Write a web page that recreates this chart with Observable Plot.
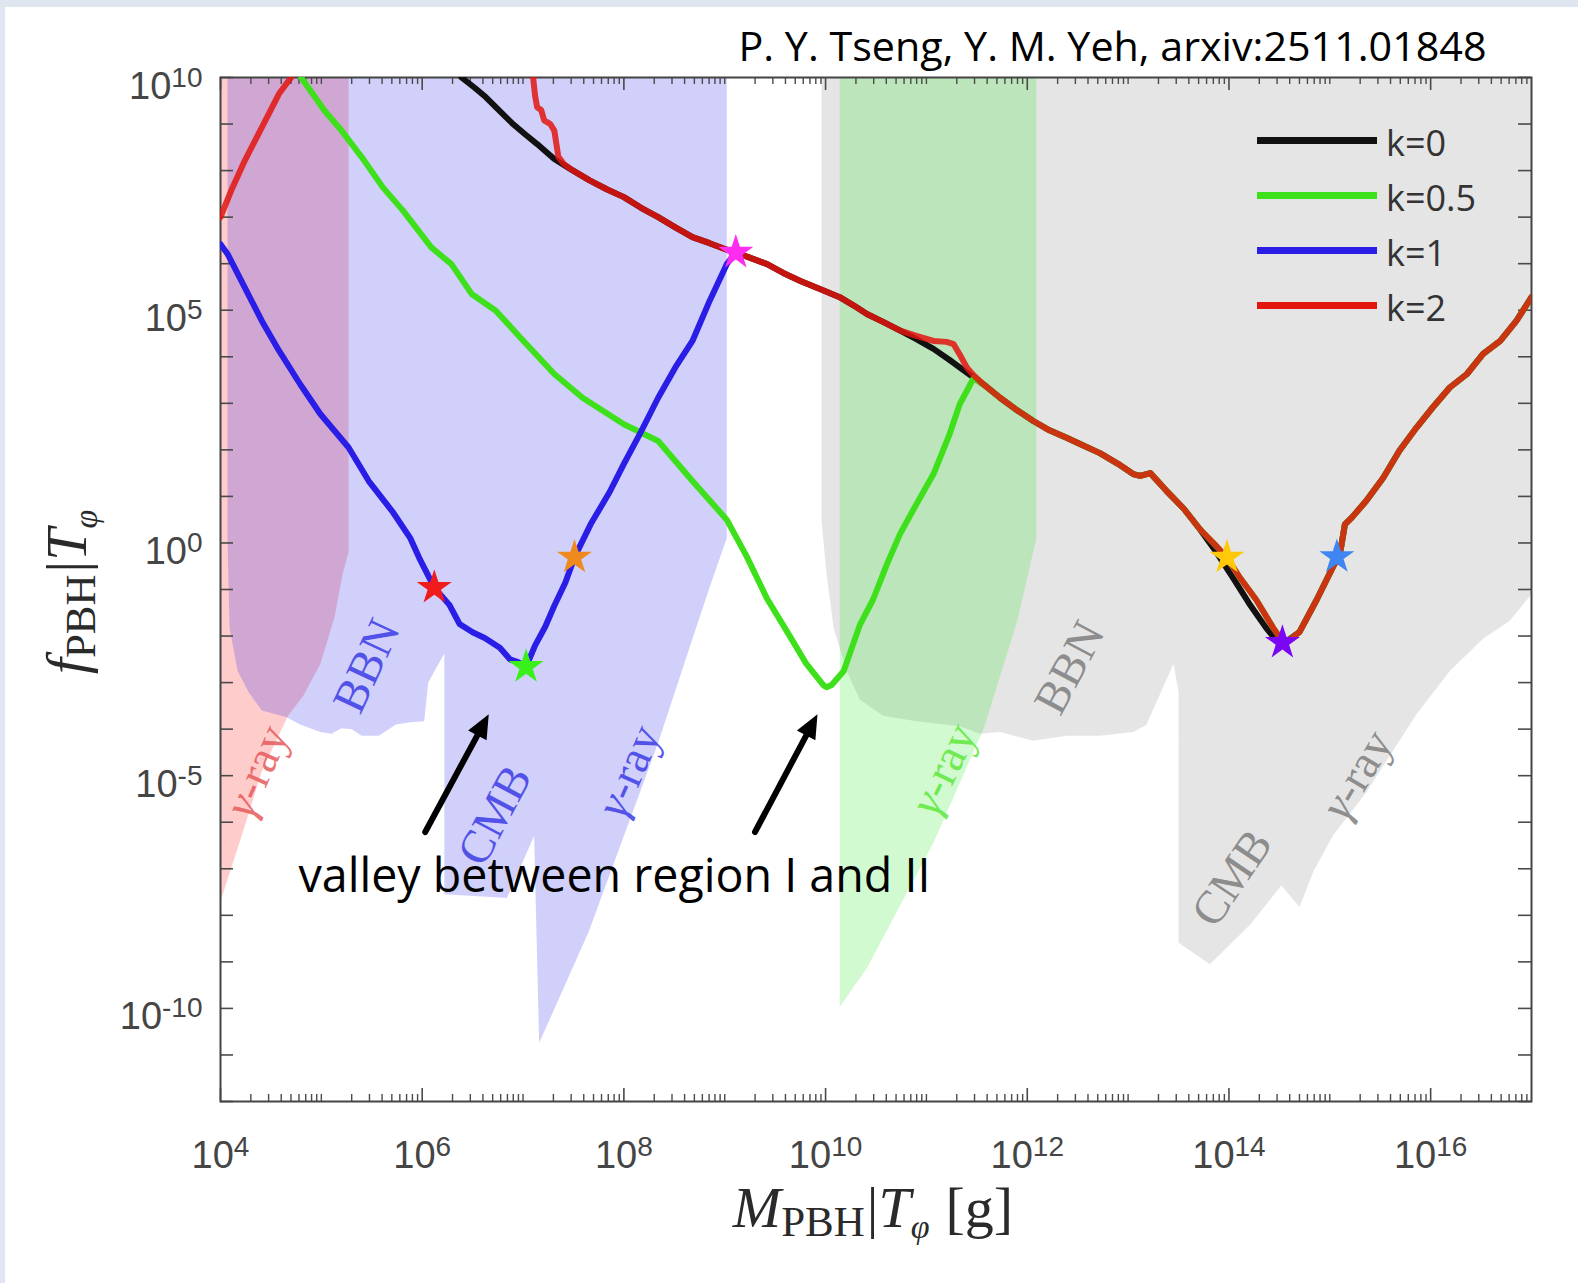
<!DOCTYPE html>
<html><head><meta charset="utf-8">
<script src="https://cdn.jsdelivr.net/npm/d3@7"></script>
<script src="https://cdn.jsdelivr.net/npm/@observablehq/plot@0.6"></script>
<style>
html,body{margin:0;padding:0;background:#fff;}
#wrap{position:relative;width:1578px;height:1283px;overflow:hidden;background:#fff;}
#wrap svg{position:absolute;left:0;top:0;}
.band{position:absolute;background:#dfe6ef;}
.leg-line{position:absolute;height:7px;width:120px;left:1257px;}
.leg-text{position:absolute;left:1386px;font-family:"Open Sans";font-size:36px;color:#333;line-height:40px;white-space:nowrap;}
</style></head><body><div id="wrap"></div>
<script>
// ---------- data (log10 of M_PBH [g], log10 of f_PBH) ----------
const seriesNames = ["k=0", "k=0.5", "k=1", "k=2"];
const seriesColors = ["#111111", "#3ee01c", "#2a1de6", "#e3150f"];

// k=0 (black)
const k0Head = [[6.39,10],[6.52,9.78],[6.63,9.58],[6.76,9.3],[6.90,9.0],[7.02,8.78],[7.14,8.57],[7.31,8.25]];
const k0Bump = [[10.9,4.38],[11.07,4.17],[11.23,3.93],[11.40,3.66]];
const k0Min = [[13.86,-0.15],[14.04,-0.75],[14.2,-1.3],[14.37,-1.83],[14.5,-2.17],[14.58,-2.1]];
// shared by k=0 and k=2 between the merge and the bump
const sharedMid = [[7.48,8.02],[7.66,7.79],[7.83,7.6],[8.0,7.43],[8.17,7.2],[8.34,7.0],[8.51,6.78],[8.68,6.57],[8.85,6.44],[9.02,6.30],[9.11,6.24],[9.26,6.12],[9.42,5.99],[9.58,5.8],[9.75,5.63],[9.95,5.45],[10.14,5.28],[10.28,5.1],[10.41,4.92],[10.58,4.74],[10.74,4.56]];
// shared by k=0, k=0.5, k=2
const sharedTail1 = [[11.57,3.40],[11.73,3.12],[11.9,2.85],[12.06,2.62],[12.22,2.42],[12.39,2.26],[12.55,2.1],[12.72,1.93],[12.9,1.7],[13.05,1.48],[13.12,1.44],[13.22,1.50],[13.38,1.12],[13.55,0.74],[13.71,0.30]];
const sharedTail2 = [[14.70,-1.91],[14.87,-1.22],[15.03,-0.52],[15.10,-0.24],[15.15,0.40],[15.22,0.55],[15.36,0.90],[15.53,1.40],[15.69,1.98],[15.86,2.48],[16.02,2.91],[16.19,3.34],[16.36,3.63],[16.52,4.06],[16.69,4.34],[16.85,4.77],[17.0,5.28]];
// k=0.5 (green)
const k05Head = [[4.80,10],[5.03,9.29],[5.20,8.86],[5.40,8.29],[5.61,7.64],[5.81,7.14],[6.09,6.35],[6.29,5.99],[6.49,5.35],[6.73,4.99],[6.97,4.42],[7.31,3.63],[7.59,3.12],[8.0,2.55],[8.34,2.19],[8.68,1.33],[9.02,0.5],[9.22,-0.3],[9.42,-1.2],[9.62,-1.91],[9.81,-2.60],[9.98,-3.06],[10.01,-3.1],[10.06,-3.05],[10.18,-2.75],[10.34,-1.76],[10.47,-1.22],[10.61,-0.45],[10.74,0.2],[10.90,0.83],[11.07,1.48],[11.23,2.34],[11.33,2.98],[11.47,3.55]];
// k=1 (blue)
const k1All = [[4.0,6.42],[4.07,6.21],[4.24,5.49],[4.41,4.77],[4.58,4.13],[4.79,3.41],[4.99,2.77],[5.27,2.05],[5.47,1.33],[5.71,0.66],[5.88,0.11],[5.97,-0.32],[6.12,-0.96],[6.27,-1.33],[6.37,-1.74],[6.5,-1.92],[6.62,-2.04],[6.77,-2.25],[6.87,-2.50],[6.95,-2.56],[7.03,-2.66],[7.12,-2.2],[7.22,-1.8],[7.31,-1.35],[7.42,-0.85],[7.51,-0.31],[7.67,0.4],[7.86,1.1],[8.0,1.7],[8.16,2.35],[8.34,3.12],[8.51,3.77],[8.68,4.34],[8.85,5.20],[9.02,5.99],[9.11,6.24]];
// k=2 (red)
const k2Left = [[4.0,7.0],[4.106,7.57],[4.24,8.21],[4.41,8.93],[4.58,9.65],[4.70,10.0]];
const k2Head = [[7.10,10.0],[7.12,9.6],[7.14,9.36],[7.18,9.3],[7.21,9.08],[7.27,9.0],[7.31,8.86],[7.35,8.3],[7.40,8.15]];
const k2Bump = [[10.9,4.45],[11.07,4.34],[11.2,4.32],[11.27,4.27],[11.33,4.05],[11.40,3.77],[11.47,3.6]];
const k2Min = [[13.88,-0.08],[13.98,-0.32],[14.1,-0.72],[14.27,-1.22],[14.44,-1.83],[14.54,-2.14],[14.62,-2.05]];

// shaded constraint regions (polygons)
const pinkRegion = [[4.0,10],[5.27,10],[5.27,-0.2],[5.21,-0.68],[5.13,-1.6],[4.99,-2.6],[4.82,-3.29],[4.67,-3.71],[4.41,-4.9],[4.21,-6.29],[4.0,-7.7]];
const blueRegion = [[4.07,10],[9.02,10],[9.02,0.1],[8.85,-0.95],[8.68,-2.06],[8.34,-4.29],[7.65,-8.36],[7.16,-10.74],[7.11,-6.29],[6.84,-7.63],[6.22,-7.55],[6.22,-2.37],[6.06,-3.0],[6.02,-3.83],[5.88,-3.85],[5.74,-3.9],[5.57,-4.14],[5.40,-4.14],[5.30,-4.0],[5.20,-3.98],[5.10,-4.1],[4.99,-4.06],[4.79,-3.9],[4.65,-3.74],[4.41,-3.6],[4.28,-3.21],[4.17,-2.75],[4.09,-1.83],[4.07,0]];
const grayRegion = [[9.96,10],[17,10],[17,-1.1],[16.78,-1.68],[16.52,-2.06],[16.19,-2.75],[15.86,-3.68],[15.36,-5.36],[15.03,-6.29],[14.84,-7.05],[14.70,-7.82],[14.52,-7.36],[14.21,-8.2],[13.81,-9.05],[13.50,-8.59],[13.50,-3.2],[13.45,-2.6],[13.18,-3.91],[13.05,-4.06],[12.72,-4.14],[12.39,-4.14],[12.06,-4.25],[11.73,-4.06],[11.53,-4.1],[11.33,-3.94],[10.90,-3.83],[10.57,-3.71],[10.34,-3.37],[10.21,-2.75],[10.08,-1.83],[10.01,-0.68],[9.96,0.47]];
const greenRegion = [[10.14,10],[12.09,10],[12.09,0.1],[11.90,-1.68],[11.57,-3.98],[11.07,-6.44],[10.41,-9.13],[10.14,-9.97]];

// region labels
const labelText = ["γ-ray","BBN","CMB","γ-ray","γ-ray","BBN","CMB","γ-ray"];
const labelM = [4.36,5.45,6.72,8.05,11.17,12.42,14.03,15.27];
const labelF = [-4.90,-2.64,-5.85,-4.90,-4.86,-2.68,-7.20,-4.98];
const labelAngle = [-66,-65,-62,-66,-64,-62,-56,-59];
const labelColor = ["#e65a5a","#3b3be6","#3b3be6","#3b3be6","#5fe83c","#7d7d7d","#7d7d7d","#7d7d7d"];

// stars
const starM = [6.12,7.51,7.03,9.11,13.98,14.53,15.07];
const starF = [-0.96,-0.31,-2.66,6.24,-0.31,-2.14,-0.30];
const starColor = ["#f01c1c","#ef8a1f","#3af01a","#ff2df0","#ffc90a","#7b06f5","#3f86f2"];

// arrows
const arrowTailM = [6.03,9.30], arrowTailF = [-6.21,-6.21];
const arrowTipM = [6.66,9.92], arrowTipF = [-3.68,-3.68];

// ticks / texts
const xMajorExp = [4,6,8,10,12,14,16];
const yLabelExp = [10,5,0,-5,-10];
const yTickExp = d3.range(-12, 11);
const titleText = "P. Y. Tseng, Y. M. Yeh, arxiv:2511.01848";
const captionText = "valley between region I and II";

// ---------- build ----------
const P = a => a.map(([m, f]) => ({M: 10 ** m, f: 10 ** f}));
const k0 = P([...k0Head, ...sharedMid, ...k0Bump, ...sharedTail1, ...k0Min, ...sharedTail2]);
const k05 = P([...k05Head, ...sharedTail1, ...k2Min, ...sharedTail2]);
const k1 = P(k1All);
const k2a = P(k2Left);
const k2b = P([...k2Head, ...sharedMid, ...k2Bump, ...sharedTail1, ...k2Min, ...sharedTail2]);
const stars = starM.map((m, i) => ({M: 10 ** m, f: 10 ** starF[i], c: starColor[i]}));
const labels = labelText.map((t, i) => ({M: 10 ** labelM[i], f: 10 ** labelF[i], t, a: labelAngle[i], c: labelColor[i]}));
const arrows = arrowTailM.map((m, i) => ({tx: 10 ** m, ty: 10 ** arrowTailF[i], hx: 10 ** arrowTipM[i], hy: 10 ** arrowTipF[i]}));
const xMajor = xMajorExp.map(e => 10 ** e);
const yMajor = yLabelExp.map(e => 10 ** e);
const yTicks = yTickExp.map(e => 10 ** e);
const xMinor = [];
for (let e = 4; e <= 16; e++) for (let m = 2; m <= 9; m++) xMinor.push(m * 10 ** e);
for (let e = 5; e <= 15; e += 2) xMinor.push(10 ** e);

const WIDTH = 1578, HEIGHT = 1283, ML = 220, MR = 47, MT = 77, MB = 182;
const IW = WIDTH - ML - MR, IH = HEIGHT - MT - MB;
const xDomain = [1e4, 1e17], yDomain = [1e-12, 1e10];

const sx = Plot.scale({x: {type: "log", domain: xDomain, range: [ML, WIDTH - MR]}});
const sy = Plot.scale({y: {type: "log", domain: yDomain, range: [HEIGHT - MB, MT]}});
const a0 = arrows[0];
const theta = Math.atan2(sy.apply(a0.hy) - sy.apply(a0.ty), sx.apply(a0.hx) - sx.apply(a0.tx));
const headSymbol = {
  draw(ctx) {
    const L = 24, W = 10.5, c = Math.cos(theta), s = Math.sin(theta);
    ctx.moveTo(0, 0);
    ctx.lineTo(-L * c - W * s, -L * s + W * c);
    ctx.lineTo(-L * c + W * s, -L * s - W * c);
    ctx.closePath();
  }
};

const region = (d, fill, op) => Plot.line(P(d), {x: "M", y: "f", curve: "linear-closed", fill, fillOpacity: op, stroke: "none", clip: true});
const curve = (d, stroke, op = 1) => Plot.line(d, {x: "M", y: "f", stroke, strokeWidth: 6, strokeOpacity: op, strokeLinejoin: "round", strokeLinecap: "round", clip: true});
const tickCol = "#4a4a4a";
const labelCol = "#454545";

const chart = Plot.plot({
  width: WIDTH, height: HEIGHT,
  marginLeft: ML, marginRight: MR, marginTop: MT, marginBottom: MB,
  x: {type: "log", domain: xDomain, axis: null},
  y: {type: "log", domain: yDomain, axis: null},
  color: {type: "identity"},
  style: {background: "transparent", fontFamily: "Liberation Sans", fontSize: "36px"},
  marks: [
    region(pinkRegion, "rgb(255,0,0)", 0.2),
    region(blueRegion, "rgb(20,20,235)", 0.2),
    region(grayRegion, "rgb(0,0,0)", 0.1),
    region(greenRegion, "rgb(50,230,40)", 0.22),
    Plot.text(labels, {x: "M", y: "f", text: "t", rotate: "a", fill: "c", fillOpacity: 0.85, fontSize: 47, fontFamily: "Liberation Serif"}),
    // ticks
    Plot.ruleX(xMajor, {x: d => d, insetTop: IH - 13, stroke: tickCol, strokeWidth: 1.6}),
    Plot.ruleX(xMajor, {x: d => d, insetBottom: IH - 13, stroke: tickCol, strokeWidth: 1.6}),
    Plot.ruleX(xMinor, {x: d => d, insetTop: IH - 7, stroke: tickCol, strokeWidth: 1.4}),
    Plot.ruleX(xMinor, {x: d => d, insetBottom: IH - 7, stroke: tickCol, strokeWidth: 1.4}),
    Plot.ruleY(yTicks, {y: d => d, insetRight: IW - 13, stroke: tickCol, strokeWidth: 1.6}),
    Plot.ruleY(yTicks, {y: d => d, insetLeft: IW - 13, stroke: tickCol, strokeWidth: 1.6}),
    Plot.frame({stroke: "#444", strokeWidth: 2}),
    // curves
    curve(k0, seriesColors[0]),
    curve(k05, seriesColors[1]),
    curve(k1, seriesColors[2]),
    curve(k2a, seriesColors[3], 0.85),
    curve(k2b, seriesColors[3], 0.85),
    Plot.dot(stars, {x: "M", y: "f", fill: "c", symbol: "star", r: 11, stroke: "none"}),
    // arrows
    Plot.arrow(arrows, {x1: "tx", y1: "ty", x2: "hx", y2: "hy", stroke: "black", strokeWidth: 6, headLength: 0, insetEnd: 16}),
    Plot.dot(arrows, {x: "hx", y: "hy", symbol: headSymbol, fill: "black", stroke: "none", r: 10}),
    Plot.text([captionText], {frameAnchor: "top-left", dx: 78, dy: 814, textAnchor: "start", lineAnchor: "bottom", fontSize: 47, fontFamily: "Open Sans", fill: "black"}),
    // tick labels
    Plot.text(xMajor, {x: d => d, text: d => "10^" + Math.round(Math.log10(d)), frameAnchor: "bottom", textAnchor: "middle", lineAnchor: "bottom", dy: 66, fontSize: 38, fill: labelCol}),
    Plot.text(yMajor, {y: d => d, text: d => "10^" + Math.round(Math.log10(d)), frameAnchor: "left", textAnchor: "end", lineAnchor: "bottom", dx: -18, dy: 21, fontSize: 38, fill: labelCol}),
    // title
    Plot.text([titleText], {frameAnchor: "top-right", dx: -45, dy: -17, textAnchor: "end", lineAnchor: "bottom", fontSize: 40, fontFamily: "Open Sans", fill: "black"})
  ]
});

const NS = "http://www.w3.org/2000/svg";
const svg = d3.select(chart);
svg.selectAll("text").each(function () {
  const t = this.textContent;
  const m = /^10\^(-?\d+)$/.exec(t);
  if (m) {
    this.textContent = "10";
    const ts = document.createElementNS(NS, "tspan");
    ts.setAttribute("font-size", "28");
    ts.setAttribute("dy", "-12");
    ts.textContent = m[1];
    this.appendChild(ts);
  } else if (t === titleText) {
    this.setAttribute("textLength", 748);
    this.setAttribute("lengthAdjust", "spacingAndGlyphs");
  } else if (t === captionText) {
    this.setAttribute("textLength", 632);
    this.setAttribute("lengthAdjust", "spacingAndGlyphs");
  } else if (t === "γ-ray") {
    this.textContent = "";
    const g = document.createElementNS(NS, "tspan");
    g.setAttribute("font-style", "italic");
    g.textContent = "γ";
    this.appendChild(g);
    this.appendChild(document.createTextNode("-ray"));
  }
});

// axis titles
const xl = svg.append("text").attr("x", 873).attr("y", 1227).attr("text-anchor", "middle").attr("font-family", "Liberation Serif").attr("font-size", 58).attr("fill", "#2a2a2a");
xl.append("tspan").attr("font-style", "italic").text("M");
xl.append("tspan").attr("font-size", 43).attr("dy", 9).text("PBH");
xl.append("tspan").attr("dy", -9).attr("dx", 2).text("|");
xl.append("tspan").attr("font-style", "italic").text("T");
xl.append("tspan").attr("font-size", 34).attr("font-style", "italic").attr("dy", 11).text("φ");
xl.append("tspan").attr("dy", -11).attr("dx", 16).text("[g]");

const yl = svg.append("text").attr("transform", "translate(86,592) rotate(-90)").attr("text-anchor", "middle").attr("font-family", "Liberation Serif").attr("font-size", 58).attr("fill", "#2a2a2a");
yl.append("tspan").attr("font-style", "italic").text("f");
yl.append("tspan").attr("font-size", 43).attr("dy", 9).text("PBH");
yl.append("tspan").attr("dy", -9).attr("dx", 2).text("|");
yl.append("tspan").attr("font-style", "italic").text("T");
yl.append("tspan").attr("font-size", 34).attr("font-style", "italic").attr("dy", 11).text("φ");

const wrap = document.getElementById("wrap");
wrap.appendChild(chart);

// page edge bands
[[0, 0, 1578, 7], [0, 0, 5, 1283]].forEach(([l, t, w, h]) => {
  const d = document.createElement("div");
  d.className = "band";
  Object.assign(d.style, {left: l + "px", top: t + "px", width: w + "px", height: h + "px"});
  wrap.appendChild(d);
});

// legend
const legendY = [140, 195, 250, 305];
seriesNames.forEach((n, i) => {
  const ln = document.createElement("div");
  ln.className = "leg-line";
  ln.style.top = (legendY[i] - 3.5) + "px";
  ln.style.background = seriesColors[i];
  wrap.appendChild(ln);
  const tx = document.createElement("div");
  tx.className = "leg-text";
  tx.style.top = (legendY[i] + 4 - 21) + "px";
  tx.textContent = n;
  wrap.appendChild(tx);
});
</script></body></html>
